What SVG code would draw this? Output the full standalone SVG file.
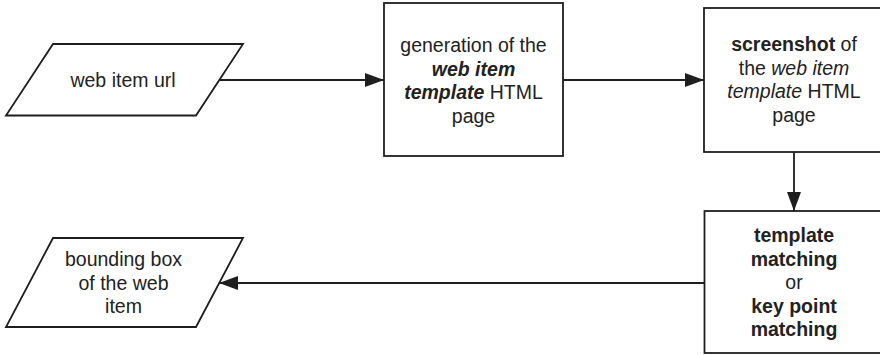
<svg xmlns="http://www.w3.org/2000/svg" width="880" height="355" viewBox="0 0 880 355">
<style>
.s{fill:#fff;stroke:#1e1e1e;stroke-width:1.8}
.t{font-family:"Liberation Sans",Arial,sans-serif;font-size:19.5px;fill:#222;text-anchor:middle}
.b{font-weight:bold}
.i{font-style:italic}
.c{fill:none;stroke:#1e1e1e;stroke-width:1.8}
</style>
<defs>
<marker id="ah" viewBox="0 0 19 14" refX="19" refY="7" markerWidth="19" markerHeight="14" markerUnits="userSpaceOnUse" orient="auto">
<path d="M0,0 L19,7 L0,14 Z" fill="#1e1e1e"/>
</marker>
</defs>
<rect width="880" height="355" fill="#fff"/>
<g id="url">
<polygon class="s" points="53,44 243,44 196,115.5 6,115.5"/>
<text class="t" x="123" y="87">web item url</text>
</g>
<g id="generation">
<rect class="s" x="384" y="3" width="179" height="153"/>
<text class="t" x="473.5" y="52">generation of the</text>
<text class="t b i" x="473.5" y="75.5">web item</text>
<text class="t" x="473.5" y="99"><tspan class="b i">template</tspan> HTML</text>
<text class="t" x="473.5" y="122.5">page</text>
</g>
<g id="screenshot">
<rect class="s" x="704" y="8" width="182" height="144"/>
<text class="t" x="794" y="51"><tspan class="b">screenshot</tspan> of</text>
<text class="t" x="794" y="74.5">the <tspan class="i">web item</tspan></text>
<text class="t" x="794" y="98"><tspan class="i">template</tspan> HTML</text>
<text class="t" x="794" y="121.5">page</text>
</g>
<g id="matching">
<rect class="s" x="704.5" y="211" width="182" height="142"/>
<text class="t b" x="794" y="242">template</text>
<text class="t b" x="794" y="265.5">matching</text>
<text class="t" x="794" y="289">or</text>
<text class="t b" x="794" y="312.5">key point</text>
<text class="t b" x="794" y="336">matching</text>
</g>
<g id="bbox">
<polygon class="s" points="53,238 243,238 196,327 6,327"/>
<text class="t" x="123.5" y="266">bounding box</text>
<text class="t" x="123.5" y="289.5">of the web</text>
<text class="t" x="123.5" y="313">item</text>
</g>
<g id="connectors">
<line class="c" x1="219" y1="80" x2="384" y2="80" marker-end="url(#ah)"/>
<line class="c" x1="563" y1="80" x2="704" y2="80" marker-end="url(#ah)"/>
<line class="c" x1="794" y1="152" x2="794" y2="211" marker-end="url(#ah)"/>
<line class="c" x1="704.5" y1="283" x2="219" y2="283" marker-end="url(#ah)"/>
</g>
</svg>
